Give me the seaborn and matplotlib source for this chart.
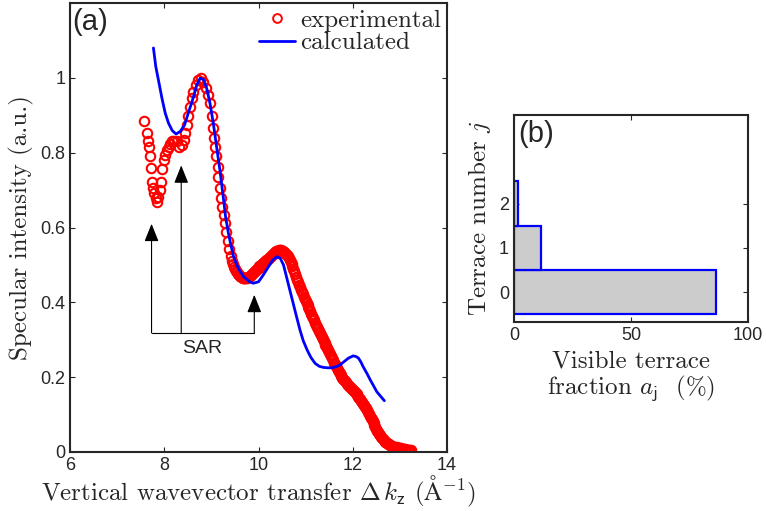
import numpy as np
import pandas as pd
import matplotlib
matplotlib.use("Agg")
import matplotlib.pyplot as plt
from matplotlib.lines import Line2D
import seaborn as sns

# ---------------- data ----------------
exp_x = [7.58, 7.63, 7.65, 7.68, 7.70, 7.72, 7.75, 7.77, 7.79, 7.82, 7.85, 7.87, 7.90, 7.93,
         7.96, 7.99, 8.02, 8.05, 8.09, 8.12, 8.16, 8.21, 8.27, 8.32, 8.37, 8.41, 8.44, 8.48,
         8.51, 8.55, 8.58, 8.62, 8.67, 8.72, 8.78, 8.83, 8.88, 8.92, 8.97, 9.01, 9.04, 9.06,
         9.08, 9.10, 9.13, 9.15, 9.18, 9.21, 9.23, 9.26, 9.29, 9.32, 9.35, 9.38, 9.41, 9.44,
         9.46, 9.48, 9.50, 9.52, 9.54, 9.56, 9.58, 9.60, 9.62, 9.64, 9.66, 9.68, 9.70, 9.72,
         9.74, 9.76, 9.78, 9.80, 9.82, 9.84, 9.86, 9.88, 9.90, 9.92, 9.94, 9.96, 9.98, 10.00,
         10.02, 10.04, 10.06, 10.08, 10.10, 10.12, 10.14, 10.16, 10.18, 10.20, 10.22, 10.24,
         10.26, 10.28, 10.30, 10.32, 10.34, 10.36, 10.38, 10.40, 10.42, 10.44, 10.46, 10.48,
         10.50, 10.52, 10.54, 10.56, 10.58, 10.60, 10.62, 10.64, 10.66, 10.68, 10.70, 10.72,
         10.74, 10.76, 10.78, 10.80, 10.82, 10.84, 10.86, 10.88, 10.90, 10.92, 10.94, 10.96,
         10.98, 11.00, 11.02, 11.04, 11.06, 11.08, 11.10, 11.12, 11.14, 11.16, 11.18, 11.20,
         11.22, 11.24, 11.26, 11.28, 11.30, 11.32, 11.34, 11.36, 11.38, 11.40, 11.42, 11.44,
         11.46, 11.48, 11.50, 11.52, 11.54, 11.56, 11.58, 11.60, 11.62, 11.64, 11.66, 11.68,
         11.70, 11.72, 11.74, 11.76, 11.78, 11.80, 11.82, 11.84, 11.86, 11.88, 11.90, 11.92,
         11.94, 11.96, 11.98, 12.00, 12.02, 12.04, 12.06, 12.08, 12.10, 12.12, 12.14, 12.16,
         12.18, 12.20, 12.22, 12.24, 12.26, 12.28, 12.30, 12.32, 12.34, 12.36, 12.38, 12.40,
         12.42, 12.44, 12.46, 12.48, 12.50, 12.52, 12.54, 12.56, 12.58, 12.60, 12.62, 12.64,
         12.66, 12.68, 12.70, 12.72, 12.74, 12.76, 12.78, 12.81, 12.84, 12.87, 12.90, 12.93,
         12.96, 12.99, 13.02, 13.05, 13.08, 13.11, 13.14, 13.17, 13.20, 13.22, 13.24]
exp_y = [0.885, 0.854, 0.832, 0.815, 0.791, 0.759, 0.723, 0.705, 0.692, 0.678, 0.669, 0.681, 0.700, 0.723,
         0.756, 0.781, 0.794, 0.806, 0.815, 0.824, 0.830, 0.831, 0.830, 0.816, 0.821, 0.834, 0.852, 0.874,
         0.897, 0.923, 0.946, 0.963, 0.981, 0.995, 0.999, 0.990, 0.972, 0.955, 0.932, 0.897, 0.866, 0.839,
         0.816, 0.790, 0.763, 0.736, 0.705, 0.680, 0.656, 0.634, 0.612, 0.588, 0.565, 0.543, 0.524, 0.510,
         0.502, 0.495, 0.489, 0.485, 0.481, 0.477, 0.474, 0.471, 0.469, 0.467, 0.466, 0.465, 0.464, 0.464,
         0.464, 0.465, 0.467, 0.469, 0.471, 0.473, 0.476, 0.478, 0.481, 0.483, 0.486, 0.488, 0.491, 0.493,
         0.496, 0.498, 0.500, 0.502, 0.504, 0.507, 0.509, 0.512, 0.514, 0.517, 0.519, 0.522,
         0.524, 0.527, 0.529, 0.531, 0.533, 0.535, 0.536, 0.537, 0.538, 0.539, 0.539, 0.539,
         0.538, 0.537, 0.535, 0.533, 0.530, 0.527, 0.523, 0.519, 0.514, 0.509, 0.503, 0.497,
         0.490, 0.483, 0.476, 0.469, 0.461, 0.454, 0.447, 0.440, 0.434, 0.427, 0.421, 0.415,
         0.409, 0.403, 0.398, 0.392, 0.387, 0.381, 0.376, 0.370, 0.364, 0.358, 0.352, 0.346,
         0.340, 0.335, 0.329, 0.323, 0.318, 0.312, 0.307, 0.302, 0.297, 0.292, 0.287, 0.282,
         0.277, 0.272, 0.267, 0.261, 0.256, 0.250, 0.245, 0.239, 0.234, 0.229, 0.224, 0.219,
         0.215, 0.211, 0.207, 0.203, 0.199, 0.195, 0.192, 0.189, 0.186, 0.183, 0.180, 0.177,
         0.175, 0.172, 0.169, 0.166, 0.163, 0.160, 0.157, 0.154, 0.151, 0.148, 0.144, 0.141,
         0.137, 0.133, 0.129, 0.125, 0.121, 0.117, 0.112, 0.107, 0.102, 0.097, 0.092, 0.087,
         0.082, 0.077, 0.072, 0.067, 0.062, 0.057, 0.053, 0.049, 0.045, 0.041, 0.038, 0.034,
         0.031, 0.028, 0.026, 0.024, 0.022, 0.020, 0.018, 0.016, 0.015, 0.014, 0.013, 0.012,
         0.011, 0.011, 0.010, 0.009, 0.008, 0.007, 0.006, 0.006, 0.005, 0.005, 0.004]

calc_x = [7.77, 7.82, 7.875, 7.95, 8.02, 8.09, 8.17, 8.25, 8.34, 8.43, 8.51, 8.60, 8.69, 8.76,
          8.83, 8.90, 8.97, 9.04, 9.11, 9.18, 9.25, 9.30, 9.36, 9.42, 9.47, 9.57, 9.68, 9.81,
          9.89, 10.00, 10.10, 10.21, 10.30, 10.39, 10.46, 10.53, 10.61, 10.67, 10.74, 10.81,
          10.88, 10.95, 11.03, 11.11, 11.20, 11.29, 11.38, 11.47, 11.56, 11.65, 11.73, 11.82,
          11.91, 12.01, 12.07, 12.12, 12.17, 12.22, 12.30, 12.37, 12.44, 12.51, 12.59, 12.67]
calc_y = [1.08, 1.03, 0.995, 0.946, 0.906, 0.879, 0.859, 0.850, 0.857, 0.874, 0.906, 0.941, 0.981, 0.999,
          0.996, 0.972, 0.932, 0.879, 0.816, 0.754, 0.683, 0.630, 0.585, 0.550, 0.522, 0.491, 0.469, 0.455,
          0.451, 0.455, 0.473, 0.495, 0.513, 0.522, 0.518, 0.500, 0.460, 0.430, 0.395, 0.360,
          0.326, 0.297, 0.273, 0.253, 0.237, 0.229, 0.226, 0.225, 0.225, 0.228, 0.233, 0.242,
          0.251, 0.257, 0.255, 0.251, 0.241, 0.228, 0.210, 0.193, 0.177, 0.161, 0.149, 0.137]

terrace_j = [0, 1, 2]
terrace_frac = [86.5, 11.5, 1.8]

xticks_a = [6, 8, 10, 12, 14]
yticks_a = [0, 0.2, 0.4, 0.6, 0.8, 1.0]
yticklabels_a = ["0", "0.2", "0.4", "0.6", "0.8", "1"]

# SAR arrows (x position, tip y), baseline y
sar_x = [7.73, 8.36, 9.91]
sar_tip = [0.61, 0.766, 0.42]
sar_base = 0.318

# ---------------- style ----------------
sns.set_style("ticks")
plt.rcParams.update({
    "font.family": ["Liberation Sans", "DejaVu Sans"],
    "mathtext.fontset": "cm",
    "axes.linewidth": 1.5,
    "xtick.direction": "in",
    "ytick.direction": "in",
    "xtick.top": True,
    "ytick.right": True,
    "xtick.major.size": 3.5,
    "ytick.major.size": 3.5,
    "xtick.major.width": 0.8,
    "ytick.major.width": 0.8,
    "xtick.labelsize": 13,
    "ytick.labelsize": 13,
})

SERIF = "cmr10"
LABEL_FS = 18

fig = plt.figure(figsize=(7.66, 5.11), dpi=100)
ax = fig.add_axes([0.0914, 0.1155, 0.4922, 0.8785])
axb = fig.add_axes([0.671, 0.370, 0.3055, 0.405])

# ---------------- panel (a) ----------------
exp_df = pd.DataFrame({"x": exp_x, "y": exp_y})
calc_df = pd.DataFrame({"x": calc_x, "y": calc_y})

sns.lineplot(data=calc_df, x="x", y="y", ax=ax, color="#0000ff", lw=2.0,
             sort=False, estimator=None, zorder=3)
sns.lineplot(data=exp_df, x="x", y="y", ax=ax, color="red", marker="o", linestyle="none",
             markerfacecolor="none", markeredgecolor="red", markersize=6.8,
             markeredgewidth=1.5, sort=False, estimator=None, zorder=2)

for xx, tip in zip(sar_x, sar_tip):
    ax.annotate("", xy=(xx, tip), xytext=(xx, sar_base),
                arrowprops=dict(arrowstyle="-|>,head_length=0.55,head_width=0.22",
                                color="black", lw=0.8, shrinkA=0, shrinkB=0,
                                mutation_scale=20))
ax.plot([sar_x[0], sar_x[-1]], [sar_base, sar_base], color="black", lw=0.8)
ax.text(8.8, 0.276, "SAR", ha="center", va="center", fontsize=14)

ax.set_xlim(6, 14)
ax.set_ylim(0, 1.2)
ax.set_xticks(xticks_a)
ax.set_yticks(yticks_a)
ax.set_yticklabels(yticklabels_a)
ax.set_xlabel(r"Vertical wavevector transfer $\Delta\,k_{\mathsf{z}}$ ($\mathsf{\AA}^{\mathsf{-1}}$)",
              family=SERIF, fontsize=LABEL_FS, labelpad=0)
ax.set_ylabel("Specular intensity (a.u.)", family=SERIF, fontsize=LABEL_FS, labelpad=4)
ax.text(0.006, 0.99, "(a)", transform=ax.transAxes, ha="left", va="top", fontsize=21)

handles = [Line2D([], [], color="red", marker="o", linestyle="none", markerfacecolor="none",
                  markersize=6.3, markeredgewidth=1.4),
           Line2D([], [], color="#0000ff", lw=2.0)]
ax.legend(handles, ["experimental", "calculated"], loc="upper right", frameon=False,
          prop={"family": SERIF, "size": LABEL_FS}, handlelength=1.45, handletextpad=0.2,
          labelspacing=0.0, borderaxespad=0.1, borderpad=0.15)

# ---------------- panel (b) ----------------
bdf = pd.DataFrame({"j": terrace_j, "frac": terrace_frac})
sns.barplot(data=bdf, x="frac", y="j", orient="h", native_scale=True, ax=axb,
            color="#cccccc", edgecolor="#0000ff", linewidth=1.6, width=1.0,
            saturation=1)
for p in axb.patches:
    p.set_facecolor("#cccccc")
axb.set_xlim(0, 100)
axb.set_ylim(-0.67, 4.0)
axb.set_xticks([0, 50, 100])
axb.set_yticks([0, 1, 2])
axb.set_yticklabels(["0", "1", "2"])
axb.set_xlabel("Visible terrace\nfraction $a_{\\mathsf{j}}$  (%)", family=SERIF, fontsize=LABEL_FS,
               labelpad=5, linespacing=1.0)
axb.set_ylabel("Terrace number $j$", family=SERIF, fontsize=LABEL_FS, labelpad=4)
axb.text(0.02, 0.975, "(b)", transform=axb.transAxes, ha="left", va="top", fontsize=21)

fig.savefig("out.png", dpi=100)
